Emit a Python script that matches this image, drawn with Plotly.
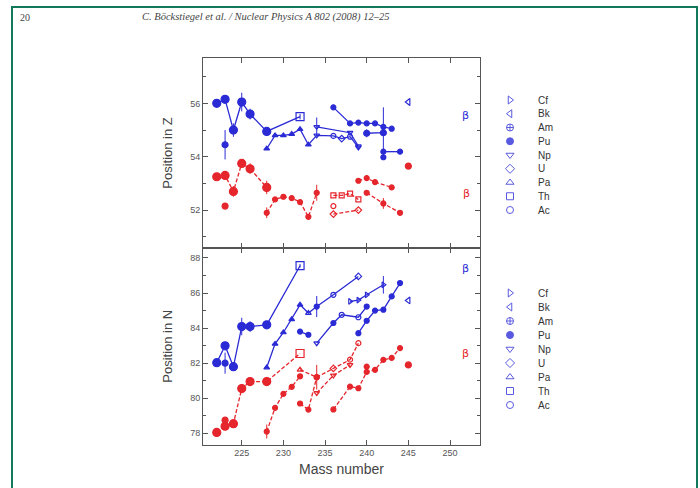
import plotly.graph_objects as go

BLUE = "#2b2bd6"
RED = "#e5262c"

# ---------- top panel: position in Z ----------
tb1_m = [222, 223, 224, 225, 226, 228, 232]
tb1_v = [56.0, 56.15, 55.0, 56.05, 55.6, 54.95, 55.5]
tb1_e = [0.1, 0.1, 0.25, 0.35, 0.2, 0.12, 0.1]
tb2_m = [223]
tb2_v = [54.45]
tb2_e = [0.55]
tb3_m = [228, 229, 230, 231, 232, 233, 234, 236, 237, 238, 239]
tb3_v = [54.3, 54.8, 54.8, 54.85, 55.03, 54.45, 54.8, 54.78, 54.68, 54.75, 54.35]
tb4_m = [234, 238, 239]
tb4_v = [55.12, 54.9, 54.4]
tb4_e = [0.35, 0, 0]
tb5_m = [236, 238, 239, 240, 241, 242, 243]
tb5_v = [55.85, 55.25, 55.28, 55.25, 55.25, 55.12, 55.05]
tb6_m = [240, 242]
tb6_v = [54.88, 54.9]
tb6_e = [0.15, 0.95]
tb7_m = [242, 244]
tb7_v = [54.19, 54.19]
tb8_m = [242]
tb8_v = [53.98]
tb9_m = [245]
tb9_v = [56.05]

tr1_m = [222, 223, 224, 225, 226, 228]
tr1_v = [53.25, 53.3, 52.7, 53.75, 53.55, 52.85]
tr1_e = [0.1, 0.1, 0.2, 0.12, 0.2, 0.25]
tr2_m = [223]
tr2_v = [52.15]
tr3_m = [228, 229, 230, 231, 232, 233, 234]
tr3_v = [51.9, 52.4, 52.5, 52.45, 52.3, 51.75, 52.65]
tr3_e = [0.2, 0, 0, 0, 0, 0, 0.3]
tr4_m = [236, 237, 238, 239]
tr4_v = [52.55, 52.55, 52.62, 52.4]
tr5_m = [239, 240, 241, 243]
tr5_v = [53.1, 53.2, 53.05, 52.85]
tr6_m = [240, 242, 244]
tr6_v = [52.65, 52.25, 51.9]
tr6_e = [0.1, 0.2, 0]
tr7_m = [236, 239]
tr7_v = [51.85, 52.0]
tr8_m = [236]
tr8_v = [52.15]
tr9_m = [245]
tr9_v = [53.65]

# ---------- bottom panel: position in N ----------
bb1_m = [222, 223, 224, 225, 226, 228, 232]
bb1_v = [82.03, 82.99, 81.8, 84.09, 84.09, 84.19, 87.56]
bb1_e = [0, 0.1, 0.2, 0.5, 0.3, 0.15, 0.1]
bb2_m = [223]
bb2_v = [82.0]
bb2_e = [0.6]
bb3_m = [228, 229, 230, 231, 232, 233, 234, 236, 239]
bb3_v = [81.75, 83.1, 83.75, 84.5, 85.33, 84.86, 85.23, 85.9, 86.95]
bb3_e = [0, 0, 0, 0, 0, 0, 0.6, 0, 0]
bb4_m = [232, 233]
bb4_v = [83.8, 83.62]
bb5_m = [234, 236, 237, 239, 240]
bb5_v = [83.14, 84.29, 84.76, 84.62, 85.23]
bb6_m = [238, 239, 240, 242]
bb6_v = [85.52, 85.6, 85.9, 86.47]
bb6_e = [0, 0, 0, 0.5]
bb7_m = [239, 240, 241, 242, 243, 244]
bb7_v = [83.71, 84.42, 85.0, 85.05, 85.81, 86.57]
bb8_m = [245]
bb8_v = [85.58]

br1_m = [222, 223, 224, 225, 226, 228, 232]
br1_v = [78.05, 78.4, 78.55, 80.55, 80.95, 80.95, 82.55]
br2_m = [223]
br2_v = [78.75]
br3_m = [228, 229, 230, 231, 232]
br3_v = [78.1, 79.45, 80.25, 80.65, 81.25]
br3_e = [0.4, 0, 0, 0, 0]
br4_m = [232, 233, 234]
br4_v = [79.7, 79.35, 81.2]
br4_e = [0, 0, 0.7]
br5_m = [232, 234, 236, 238, 239]
br5_v = [81.62, 81.2, 81.7, 82.2, 83.14]
br6_m = [234, 236, 238]
br6_v = [80.3, 81.3, 81.9]
br7_m = [236, 238, 239, 240, 241, 242, 243, 244]
br7_v = [79.36, 80.66, 80.57, 81.5, 81.62, 82.19, 82.3, 82.86]
br8_m = [240]
br8_v = [81.8]
br9_m = [245]
br9_v = [81.9]

legend_labels = ["Cf", "Bk", "Am", "Pu", "Np", "U", "Pa", "Th", "Ac"]
legend_symbols = ["triangle-right-open", "triangle-left-open", "circle-cross-open",
                  "circle", "triangle-down-open", "diamond-open",
                  "triangle-up-open", "square-open", "circle-open"]

header_page = "20"
header_text = "C. Böckstiegel et al. / Nuclear Physics A 802 (2008) 12–25"

# series table: (mass, value, err, color, symbol(s), size, line, axis)
series = [
    (tb1_m, tb1_v, tb1_e, BLUE, ["circle"] * 6 + ["square-open"], 8, "solid", 1),
    (tb2_m, tb2_v, tb2_e, BLUE, "circle", 6, None, 1),
    (tb3_m, tb3_v, None, BLUE, ["triangle-up"] * 6 + ["triangle-down-open", "circle-open", "diamond-open", "circle-open", "triangle-down-open"], 5, "solid", 1),
    (tb4_m, tb4_v, tb4_e, BLUE, "triangle-down-open", 5, "solid", 1),
    (tb5_m, tb5_v, None, BLUE, "circle", 5, "solid", 1),
    (tb6_m, tb6_v, tb6_e, BLUE, "circle", 6, "solid", 1),
    (tb7_m, tb7_v, None, BLUE, "circle", 5, "solid", 1),
    (tb8_m, tb8_v, None, BLUE, "circle", 5, None, 1),
    (tb9_m, tb9_v, None, BLUE, "triangle-left-open", 6, None, 1),
    (tr1_m, tr1_v, tr1_e, RED, "circle", 8, "dash", 1),
    (tr2_m, tr2_v, None, RED, "circle", 6, None, 1),
    (tr3_m, tr3_v, tr3_e, RED, "circle", 5, "dash", 1),
    (tr4_m, tr4_v, None, RED, "square-open", 5, "dash", 1),
    (tr5_m, tr5_v, None, RED, "circle", 5, "dash", 1),
    (tr6_m, tr6_v, tr6_e, RED, "circle", 5, "dash", 1),
    (tr7_m, tr7_v, None, RED, "diamond-open", 5, "dash", 1),
    (tr8_m, tr8_v, None, RED, "circle-open", 5, None, 1),
    (tr9_m, tr9_v, None, RED, "circle", 6, None, 1),
    (bb1_m, bb1_v, bb1_e, BLUE, ["circle"] * 6 + ["square-open"], 8, "solid", 2),
    (bb2_m, bb2_v, bb2_e, BLUE, "circle", 6, None, 2),
    (bb3_m, bb3_v, bb3_e, BLUE, ["triangle-up"] * 5 + ["triangle-up-open", "circle", "circle-open", "diamond-open"], 5, "solid", 2),
    (bb4_m, bb4_v, None, BLUE, "circle", 5, "solid", 2),
    (bb5_m, bb5_v, None, BLUE, ["triangle-down-open", "circle", "circle-open", "circle-open", "circle"], 5, "solid", 2),
    (bb6_m, bb6_v, bb6_e, BLUE, "triangle-right-open", 5, "solid", 2),
    (bb7_m, bb7_v, None, BLUE, "circle", 5, "solid", 2),
    (bb8_m, bb8_v, None, BLUE, "triangle-left-open", 6, None, 2),
    (br1_m, br1_v, None, RED, ["circle"] * 6 + ["square-open"], 8, "dash", 2),
    (br2_m, br2_v, None, RED, "circle", 6, None, 2),
    (br3_m, br3_v, br3_e, RED, "circle", 5, "dash", 2),
    (br4_m, br4_v, br4_e, RED, "circle", 5, "dash", 2),
    (br5_m, br5_v, None, RED, ["triangle-up-open", "circle", "diamond-open", "circle-open", "circle-open"], 5, "dash", 2),
    (br6_m, br6_v, None, RED, "triangle-down-open", 5, "dash", 2),
    (br7_m, br7_v, None, RED, "circle", 5, "dash", 2),
    (br8_m, br8_v, None, RED, "circle", 5, None, 2),
    (br9_m, br9_v, None, RED, "circle", 6, None, 2),
]

fig = go.Figure()
for m, v, e, col, sym, size, dash, ax in series:
    tr = dict(
        x=m, y=v, mode="lines+markers" if dash else "markers",
        marker=dict(color=col, symbol=sym, size=size, line=dict(color=col, width=1.2)),
        line=dict(color=col, width=1.3, dash="4px,2px" if dash == "dash" else "solid"),
        showlegend=False, hoverinfo="skip",
        xaxis="x" if ax == 1 else "x2", yaxis="y" if ax == 1 else "y2",
    )
    if e is not None:
        tr["error_y"] = dict(type="data", array=e, visible=True, color=col, thickness=1, width=0)
    fig.add_trace(go.Scatter(**tr))

# legends (overlay axis in pixel-like unit coords)
for k, (lab, sym) in enumerate(zip(legend_labels, legend_symbols)):
    for y0, step in ((100, 13.75), (293, 14.0)):
        yy = y0 + k * step
        fig.add_trace(go.Scatter(x=[510], y=[yy], mode="markers",
                                 marker=dict(symbol=sym, size=7, color="#5a5ae0",
                                             line=dict(color="#5a5ae0", width=1)),
                                 showlegend=False, hoverinfo="skip",
                                 xaxis="x3", yaxis="y3"))
        fig.add_annotation(x=536, y=yy, xref="x3", yref="y3", text=lab,
                           showarrow=False, xanchor="left", yanchor="middle",
                           font=dict(size=10, color="#333", family="Liberation Sans"))

for xx, yy, col in ((465, 115, BLUE), (466, 193, RED), (465, 268, BLUE), (465, 353, RED)):
    fig.add_annotation(x=xx, y=yy, xref="x3", yref="y3", text="β", showarrow=False,
                       font=dict(size=11, color=col, family="DejaVu Sans"))

W, H = 700, 488
XL, XR = 203, 480
YT, YM, YB = 58, 248, 444.5

axis_common = dict(showline=True, linecolor="#555", linewidth=1, mirror="ticks",
                   ticks="inside", ticklen=5, tickcolor="#555", zeroline=False,
                   showgrid=False, tickfont=dict(size=9, color="#555", family="Liberation Sans"))

fig.update_layout(
    width=W, height=H, margin=dict(l=0, r=0, t=0, b=0),
    paper_bgcolor="white", plot_bgcolor="rgba(0,0,0,0)",
    xaxis=dict(domain=[XL / W, XR / W], range=[220.35, 253.6], anchor="y",
               dtick=5, tick0=225, showticklabels=False, **axis_common),
    yaxis=dict(domain=[1 - YM / H, 1 - YT / H], range=[50.58, 57.7], anchor="x",
               dtick=2, tick0=52, minor=dict(dtick=1, ticks="inside", ticklen=3, tickcolor="#555"),
               title=dict(text="Position in Z", font=dict(size=13, color="#444", family="Liberation Sans"), standoff=14),
               **axis_common),
    xaxis2=dict(domain=[XL / W, XR / W], range=[220.35, 253.6], anchor="y2",
                dtick=5, tick0=225,
                title=dict(text="Mass number", font=dict(size=14, color="#444", family="Liberation Sans"), standoff=6),
                **axis_common),
    yaxis2=dict(domain=[1 - YB / H, 1 - YM / H], range=[77.36, 88.57], anchor="x2",
                dtick=2, tick0=78, minor=dict(dtick=1, ticks="inside", ticklen=3, tickcolor="#555"),
                title=dict(text="Position in N", font=dict(size=13, color="#444", family="Liberation Sans"), standoff=14),
                **axis_common),
    xaxis3=dict(domain=[0, 1], range=[0, W], visible=False, anchor="y3", fixedrange=True),
    yaxis3=dict(domain=[0, 1], range=[H, 0], visible=False, anchor="x3", fixedrange=True),
)

fig.add_annotation(x=25, y=17, xref="x3", yref="y3", text=header_page, showarrow=False,
                   font=dict(size=10, color="#444", family="Liberation Serif"))
fig.add_annotation(x=266, y=17, xref="x3", yref="y3", text="<i>" + header_text + "</i>",
                   showarrow=False, font=dict(size=10.5, color="#444", family="Liberation Serif"))

fig.add_shape(type="rect", xref="x3", yref="y3", x0=12, x1=697, y0=7, y1=520,
              line=dict(color="#12785a", width=2), fillcolor="rgba(0,0,0,0)", layer="above")

fig.write_html("out.html")
